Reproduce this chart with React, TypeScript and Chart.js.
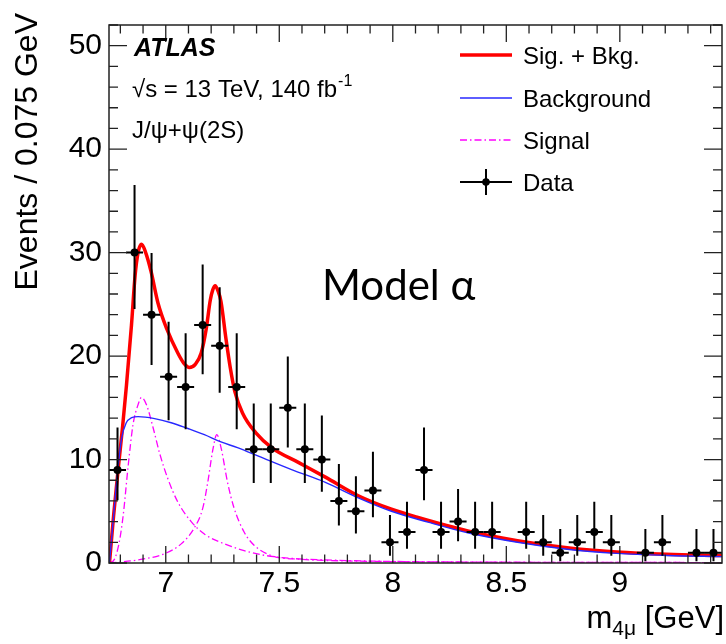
import React, { useEffect, useRef } from "react";
import { Chart, registerables } from "chart.js";

Chart.register(...registerables);

const FONT = "'Liberation Sans', Arial, Helvetica, sans-serif";

// ---- histogram binning & data ----
const binLow = 6.75;
const binWidth = 0.075;
const counts = [9, 30, 24, 18, 17, 23, 21, 17, 11, 11, 15, 11, 10, 6, 5, 7, 2, 3, 9, 3, 4, 3, 3, 0, 3, 2, 1, 2, 3, 2, 0, 1, 2, 0, 1, 1];

// ---- Sig. + Bkg. curve ----
const sbX = [6.752, 6.77, 6.79, 6.81, 6.827, 6.849, 6.865, 6.878, 6.893, 6.91, 6.935, 6.966, 7.005, 7.053, 7.08, 7.104, 7.13, 7.156, 7.178, 7.196, 7.207, 7.218, 7.23, 7.243, 7.265, 7.284, 7.304, 7.338, 7.396, 7.469, 7.586, 7.703, 7.848, 7.994, 8.111, 8.33, 8.549, 8.768, 8.986, 9.205, 9.45];
const sbY = [0, 4.5, 9.0, 13.2, 17.2, 23.0, 27.8, 30.0, 30.8, 30.1, 28.2, 25.1, 22.6, 20.3, 19.3, 18.9, 19.2, 20.3, 22.6, 25.4, 26.4, 26.8, 26.3, 25.3, 21.7, 18.9, 16.6, 14.5, 12.6, 11.1, 9.7, 8.3, 6.5, 5.2, 4.4, 3.1, 2.16, 1.47, 1.06, 0.84, 0.72];

// ---- Background curve ----
const bkgX = [6.752, 6.77, 6.79, 6.805, 6.825, 6.85, 6.878, 6.951, 7.024, 7.097, 7.17, 7.243, 7.316, 7.411, 7.557, 7.703, 7.848, 7.994, 8.155, 8.33, 8.549, 8.768, 8.986, 9.205, 9.45];
const bkgY = [0, 4.5, 9.3, 12.0, 13.5, 14.05, 14.15, 13.96, 13.56, 13.0, 12.4, 11.7, 11.15, 10.3, 9.0, 7.8, 6.3, 5.0, 3.95, 2.92, 2.0, 1.33, 0.93, 0.73, 0.62];

// ---- Signal components ----
const sig1X = [6.752, 6.775, 6.795, 6.813, 6.834, 6.856, 6.878, 6.893, 6.915, 6.944, 6.973, 7.01, 7.053, 7.112, 7.17, 7.258, 7.345, 7.433, 7.55, 7.7, 8.0, 8.5, 9.45];
const sig1Y = [0, 0.4, 2.0, 4.7, 9.3, 13.4, 15.3, 16.0, 15.3, 13.1, 10.6, 8.1, 5.9, 4.0, 2.8, 1.85, 1.2, 0.75, 0.45, 0.3, 0.15, 0.08, 0.04];
const sig2X = [6.752, 6.878, 6.995, 7.068, 7.126, 7.163, 7.185, 7.207, 7.225, 7.245, 7.272, 7.301, 7.345, 7.39, 7.468, 7.6, 7.8, 8.2, 9.45];
const sig2Y = [0, 0.3, 0.9, 1.85, 3.4, 5.3, 7.8, 10.9, 12.4, 11.0, 7.8, 5.3, 3.0, 1.7, 0.7, 0.35, 0.2, 0.1, 0.04];

// ---- axes ----
const xMin = 6.75;
const xMax = 9.45;
const yMin = 0;
const yMax = 52;
const xTickValues = [7, 7.5, 8, 8.5, 9];
const yTickValues = [0, 10, 20, 30, 40, 50];
const xMinorStep = 0.1;
const yMinorStep = 2;

const legendLabels = ["Sig. + Bkg.", "Background", "Signal", "Data"];

const RED = "#ff0000";
const BLUE = "rgb(40,40,255)";
const MAGENTA = "#ff00ff";
const SIG_DASH = [7, 3, 1.5, 3];

const toXY = (xs: number[], ys: number[]) => xs.map((x, i) => ({ x, y: ys[i] }));

// Garwood (Poisson 68%) interval, Wilson-Hilferty approximation
function poissonLow(n: number) {
  if (n <= 0) return 0;
  const a = 1 - 1 / (9 * n) - 1 / (3 * Math.sqrt(n));
  return n * a * a * a;
}
function poissonHigh(n: number) {
  const m = n + 1;
  const a = 1 - 1 / (9 * m) + 1 / (3 * Math.sqrt(m));
  return m * a * a * a;
}

const decorPlugin = {
  id: "atlasDecor",
  afterDatasetsDraw(chart: any) {
    const { ctx, chartArea: a, scales } = chart;
    const xs = scales.x;
    const ys = scales.y;
    ctx.save();

    // error bars
    ctx.beginPath();
    ctx.rect(a.left, a.top, a.right - a.left, a.bottom - a.top);
    ctx.clip();
    ctx.strokeStyle = "#000";
    ctx.lineWidth = 2;
    counts.forEach((n, i) => {
      if (n <= 0) return;
      const xc = binLow + (i + 0.5) * binWidth;
      const px = xs.getPixelForValue(xc);
      const py = ys.getPixelForValue(n);
      ctx.beginPath();
      ctx.moveTo(px, ys.getPixelForValue(poissonLow(n)));
      ctx.lineTo(px, ys.getPixelForValue(poissonHigh(n)));
      ctx.moveTo(xs.getPixelForValue(xc - binWidth / 2), py);
      ctx.lineTo(xs.getPixelForValue(xc + binWidth / 2), py);
      ctx.stroke();
    });
    ctx.restore();

    ctx.save();
    // frame
    ctx.strokeStyle = "#222";
    ctx.lineWidth = 1.5;
    ctx.strokeRect(a.left, a.top, a.right - a.left, a.bottom - a.top);

    // ticks
    ctx.lineWidth = 1.3;
    ctx.beginPath();
    const majX = 17, minX = 8.5, majY = 18, minY = 9;
    for (let v = Math.ceil(xMin / xMinorStep) * xMinorStep; v <= xMax + 1e-9; v += xMinorStep) {
      const vv = Math.round(v * 10) / 10;
      const isMaj = xTickValues.some((t) => Math.abs(t - vv) < 1e-6);
      const L = isMaj ? majX : minX;
      const px = xs.getPixelForValue(vv);
      ctx.moveTo(px, a.bottom);
      ctx.lineTo(px, a.bottom - L);
      ctx.moveTo(px, a.top);
      ctx.lineTo(px, a.top + L);
    }
    for (let v = yMin; v <= yMax + 1e-9; v += yMinorStep) {
      const isMaj = yTickValues.includes(v);
      const L = isMaj ? majY : minY;
      const py = ys.getPixelForValue(v);
      ctx.moveTo(a.left, py);
      ctx.lineTo(a.left + L, py);
      ctx.moveTo(a.right, py);
      ctx.lineTo(a.right - L, py);
    }
    ctx.stroke();

    ctx.fillStyle = "#000";
    ctx.textBaseline = "alphabetic";

    // ATLAS label
    ctx.font = `italic bold 25px ${FONT}`;
    ctx.textAlign = "left";
    ctx.fillText("ATLAS", 134, 56);

    ctx.font = `24px ${FONT}`;
    const lumi = "\u221As = 13 TeV, 140 fb";
    ctx.fillText(lumi, 132, 97);
    const wl = ctx.measureText(lumi).width;
    ctx.font = `16px ${FONT}`;
    ctx.fillText("-1", 132 + wl + 1, 86);

    ctx.font = `24px ${FONT}`;
    ctx.fillText("J/\u03C8+\u03C8(2S)", 132, 138);

    // Model alpha
    ctx.font = `42px Lato, 'Open Sans', sans-serif`;
    ctx.fillText("Model \u03B1", 322, 300);

    // legend
    const lx0 = 460, lx1 = 512, tx = 523;
    const rows = [55, 98, 140, 182];
    ctx.font = `24px ${FONT}`;
    rows.forEach((ry, i) => {
      ctx.fillStyle = "#000";
      ctx.fillText(legendLabels[i], tx, ry + 8.6);
    });
    ctx.beginPath();
    ctx.strokeStyle = RED;
    ctx.lineWidth = 3.5;
    ctx.moveTo(lx0, rows[0]);
    ctx.lineTo(lx1, rows[0]);
    ctx.stroke();
    ctx.beginPath();
    ctx.strokeStyle = BLUE;
    ctx.lineWidth = 1.4;
    ctx.moveTo(lx0, rows[1]);
    ctx.lineTo(lx1, rows[1]);
    ctx.stroke();
    ctx.beginPath();
    ctx.strokeStyle = MAGENTA;
    ctx.lineWidth = 1.4;
    ctx.setLineDash(SIG_DASH);
    ctx.moveTo(lx0, rows[2]);
    ctx.lineTo(lx1, rows[2]);
    ctx.stroke();
    ctx.setLineDash([]);
    ctx.beginPath();
    ctx.strokeStyle = "#000";
    ctx.lineWidth = 2;
    ctx.moveTo(lx0, rows[3]);
    ctx.lineTo(lx1, rows[3]);
    ctx.moveTo((lx0 + lx1) / 2, rows[3] - 13);
    ctx.lineTo((lx0 + lx1) / 2, rows[3] + 13);
    ctx.stroke();
    ctx.beginPath();
    ctx.fillStyle = "#000";
    ctx.arc((lx0 + lx1) / 2, rows[3], 3.8, 0, Math.PI * 2);
    ctx.fill();

    // y title
    ctx.save();
    ctx.translate(37, 13);
    ctx.rotate(-Math.PI / 2);
    ctx.font = `32px ${FONT}`;
    ctx.textAlign = "right";
    ctx.fillText("Events / 0.075 GeV", 0, 0);
    ctx.restore();

    // x title
    ctx.textAlign = "left";
    ctx.font = `31px ${FONT}`;
    const wm = ctx.measureText("m").width;
    const wr = ctx.measureText(" [GeV]").width;
    ctx.font = `21px ${FONT}`;
    const ws = ctx.measureText("4\u03BC").width;
    const right = 724;
    const base = 628;
    let cx = right - wr - ws - wm;
    ctx.font = `31px ${FONT}`;
    ctx.fillText("m", cx, base);
    cx += wm;
    ctx.font = `21px ${FONT}`;
    ctx.fillText("4\u03BC", cx, base + 7);
    cx += ws;
    ctx.font = `31px ${FONT}`;
    ctx.fillText(" [GeV]", cx, base);

    ctx.restore();
  },
};

export default function App() {
  const ref = useRef<HTMLCanvasElement | null>(null);

  useEffect(() => {
    if (!ref.current) return;
    const dataPts = counts
      .map((n, i) => ({ x: binLow + (i + 0.5) * binWidth, y: n }))
      .filter((p) => p.y > 0);

    const chart = new Chart(ref.current, {
      type: "line",
      data: {
        datasets: [
          {
            label: "Data",
            data: dataPts,
            showLine: false,
            pointRadius: 4,
            pointBackgroundColor: "#000",
            pointBorderWidth: 0,
            borderColor: "#000",
          },
          {
            label: "Background",
            data: toXY(bkgX, bkgY),
            borderColor: BLUE,
            borderWidth: 1.4,
            pointRadius: 0,
            cubicInterpolationMode: "monotone",
          },
          {
            label: "Sig. + Bkg.",
            data: toXY(sbX, sbY),
            borderColor: RED,
            borderWidth: 3.5,
            pointRadius: 0,
            cubicInterpolationMode: "monotone",
          },
          {
            label: "Signal",
            data: toXY(sig1X, sig1Y),
            borderColor: MAGENTA,
            borderWidth: 1.3,
            borderDash: SIG_DASH,
            pointRadius: 0,
            cubicInterpolationMode: "monotone",
          },
          {
            label: "Signal 2",
            data: toXY(sig2X, sig2Y),
            borderColor: MAGENTA,
            borderWidth: 1.3,
            borderDash: SIG_DASH,
            pointRadius: 0,
            cubicInterpolationMode: "monotone",
          },
        ],
      },
      options: {
        animation: false,
        responsive: false,
        maintainAspectRatio: false,
        layout: { padding: { top: 8, right: 0, left: 0, bottom: 0 } },
        plugins: { legend: { display: false }, tooltip: { enabled: false } },
        scales: {
          x: {
            type: "linear",
            min: xMin,
            max: xMax,
            grid: { display: false, drawTicks: false },
            border: { display: false },
            ticks: {
              font: { family: FONT, size: 30 },
              color: "#000",
              padding: 3,
              maxRotation: 0,
              autoSkip: false,
              callback: (v: any) => String(v),
            },
            afterBuildTicks: (s: any) => {
              s.ticks = xTickValues.map((v) => ({ value: v }));
            },
            afterFit: (s: any) => {
              s.height = 81;
            },
          },
          y: {
            type: "linear",
            min: yMin,
            max: yMax,
            grid: { display: false, drawTicks: false },
            border: { display: false },
            ticks: {
              font: { family: FONT, size: 30 },
              color: "#000",
              padding: 7,
              autoSkip: false,
              callback: (v: any) => String(v),
            },
            afterBuildTicks: (s: any) => {
              s.ticks = yTickValues.map((v) => ({ value: v }));
            },
            afterFit: (s: any) => {
              s.width = 109;
            },
          },
        },
      } as any,
      plugins: [decorPlugin],
    });
    return () => chart.destroy();
  }, []);

  return (
    <div style={{ position: "absolute", left: 0, top: 0, width: 726, height: 644, background: "#fff" }}>
      <canvas ref={ref} width={726} height={644} style={{ display: "block", width: 726, height: 644 }} />
    </div>
  );
}
